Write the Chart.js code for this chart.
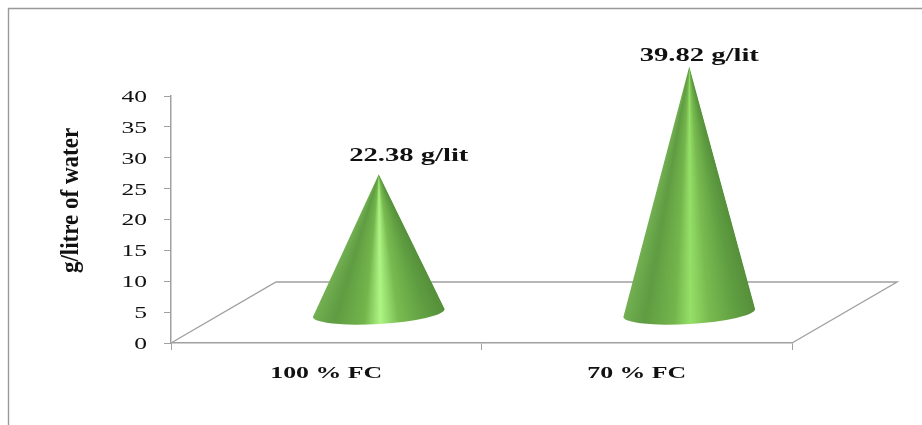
<!DOCTYPE html>
<html>
<head>
<meta charset="utf-8">
<style>
  html, body { margin: 0; padding: 0; background: #fff; overflow: hidden; }
  canvas { display: block; filter: blur(0.45px); }
</style>
<script src="https://cdn.jsdelivr.net/npm/chart.js@4/dist/chart.umd.min.js"></script>
</head>
<body>
<canvas id="chart" width="922" height="425"></canvas>
<script>
const categories = ['100 % FC', '70 % FC']
const values = [22.38, 39.82]
const valueUnit = 'g/lit'
const axisTitle = 'g/litre of water'

const lineColor = '#a0a0a0'
const depthX = 105
const depthY = 61
const labelShift = [[30, -18], [10, -10]]
const centerColors = ['#aef585', '#95e068']

// stretches each string sideways around its own anchor, the source image is stretched too
function stretchedText(ctx, sx, dy, fn) {
    const fill = ctx.fillText
    ctx.fillText = function (text, x, y) {
        ctx.save()
        ctx.translate(x, y + dy)
        ctx.scale(sx, 1)
        fill.call(ctx, text, 0, 0)
        ctx.restore()
    }
    fn()
    delete ctx.fillText
}

const stretchLabels = {
    id: 'stretchLabels',
    beforeDraw(chart) {
        const ctx = chart.ctx
        const wrap = (scale, method, sx, dy, before) => {
            const orig = scale[method]
            scale[method] = function (area) {
                ctx.save()
                if (before) before()
                stretchedText(ctx, sx, dy, () => orig.call(scale, area))
                ctx.restore()
            }
        }
        if (chart._wrapped) return
        chart._wrapped = true
        wrap(chart.scales.y, 'drawLabels', 1.5, 1.5)
        wrap(chart.scales.x, 'drawLabels', 1.52, 0)
        // title sits above the axis middle in the source
        wrap(chart.scales.y, 'drawTitle', 0.92, 0, () => ctx.translate(-3, -19))
    }
}

const frameAndFloor = {
    id: 'frameAndFloor',
    beforeDatasetsDraw(chart) {
        const { ctx, chartArea: a } = chart
        ctx.save()
        ctx.strokeStyle = '#999'
        ctx.lineWidth = 1.4
        ctx.beginPath()
        ctx.moveTo(8.5, 425)
        ctx.lineTo(8.5, 8.5)
        ctx.lineTo(922, 8.5)
        ctx.stroke()
        ctx.strokeStyle = lineColor
        ctx.beginPath()
        ctx.moveTo(a.left, a.bottom)
        ctx.lineTo(a.left + depthX, a.bottom - depthY)
        ctx.lineTo(a.right + depthX, a.bottom - depthY)
        ctx.lineTo(a.right, a.bottom)
        ctx.stroke()
        ctx.restore()
    }
}

const cones = {
    id: 'cones',
    afterDatasetsDraw(chart) {
        const ctx = chart.ctx
        const bars = chart.getDatasetMeta(0).data
        bars.forEach((bar, i) => {
            const cx = bar.x + depthX / 2
            const baseY = bar.base - depthY / 2 + 1
            const tipY = bar.y - depthY / 2
            const rx = bar.width / 2
            const ry = 11
            const tilt = -0.06
            const lx = cx - rx * Math.cos(tilt)
            const ly = baseY - rx * Math.sin(tilt)
            const rightX = cx + rx * Math.cos(tilt)
            const rightY = baseY + rx * Math.sin(tilt)

            const a0 = Math.atan2(rightY - tipY, rightX - cx)
            const a1 = Math.atan2(ly - tipY, lx - cx)
            const g = ctx.createConicGradient(a0, cx, tipY)
            const stop = (t, c) => g.addColorStop((a1 - a0) * t / (2 * Math.PI), c)
            stop(0, '#558f3a')
            stop(0.14, '#5f9d41')
            stop(0.36, '#79bb50')
            stop(0.5, centerColors[i])
            stop(0.62, '#74b54c')
            stop(0.84, '#5f9c42')
            stop(1, '#72b052')
            g.addColorStop(Math.min(1, (a1 - a0) * 1.01 / (2 * Math.PI)), '#72b052')

            ctx.save()
            ctx.fillStyle = g
            ctx.beginPath()
            ctx.moveTo(cx, tipY)
            ctx.lineTo(rightX, rightY)
            ctx.ellipse(cx, baseY, rx, ry, tilt, 0, Math.PI)
            ctx.closePath()
            ctx.fill()
            ctx.restore()

            ctx.save()
            ctx.font = 'bold 18px "Liberation Serif"'
            ctx.fillStyle = '#111'
            ctx.textAlign = 'center'
            ctx.textBaseline = 'middle'
            ctx.translate(cx + labelShift[i][0], tipY + labelShift[i][1])
            ctx.scale(1.59, 1)
            ctx.fillText(values[i] + ' ' + valueUnit, 0, 0)
            ctx.restore()
        })
    }
}

new Chart(document.getElementById('chart'), {
    type: 'bar',
    data: {
        labels: categories,
        datasets: [{
            data: values,
            backgroundColor: 'rgba(0,0,0,0)',
            barPercentage: 0.85,
            categoryPercentage: 0.5
        }]
    },
    options: {
        responsive: false,
        animation: false,
        layout: { padding: { top: 96, right: 130, left: 60, bottom: 0 } },
        plugins: { legend: { display: false }, tooltip: { enabled: false } },
        scales: {
            x: {
                afterFit: (s) => { s.height = 82 },
                grid: { offset: true, drawOnChartArea: false, color: lineColor, tickLength: 7 },
                border: { color: lineColor, width: 1.5 },
                ticks: {
                    maxRotation: 0,
                    padding: 13,
                    color: '#111',
                    font: { family: '"Liberation Serif"', size: 17, weight: 'bold' }
                }
            },
            y: {
                min: 0,
                max: 40,
                afterFit: (s) => { s.width = 111 },
                grid: { drawOnChartArea: false, color: lineColor, tickLength: 7 },
                border: { color: lineColor, width: 1.5 },
                title: {
                    display: true,
                    text: axisTitle,
                    color: '#111',
                    padding: 0,
                    font: { family: '"Liberation Serif"', size: 25, weight: 'bold' }
                },
                ticks: {
                    stepSize: 5,
                    padding: 17,
                    color: '#111',
                    font: { family: '"Liberation Serif"', size: 17 }
                }
            }
        }
    },
    plugins: [stretchLabels, frameAndFloor, cones]
})
</script>
</body>
</html>
